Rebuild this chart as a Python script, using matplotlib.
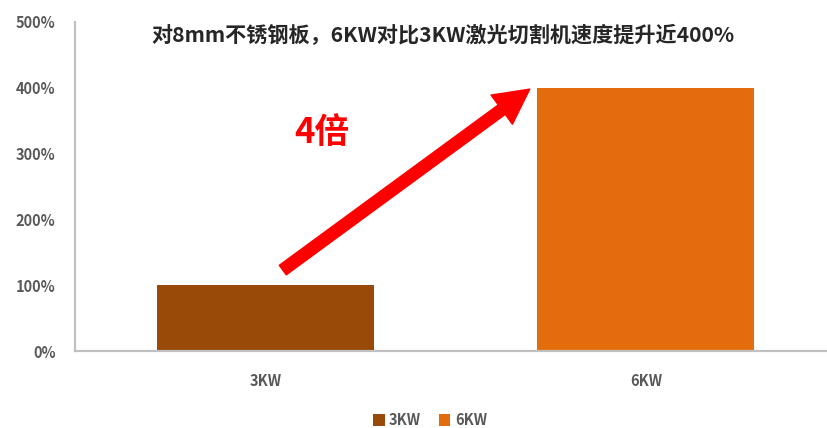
import matplotlib

matplotlib.use("Agg")

import matplotlib.pyplot as plt
from matplotlib.patches import FancyArrowPatch
from matplotlib.ticker import FuncFormatter

plt.rcParams["font.family"] = ["Noto Sans CJK SC", "DejaVu Sans"]

# Cutting speed relative to the 3KW machine (percent / 100).
CATEGORIES = ["3KW", "6KW"]
SPEED_RATIO = [1.0, 4.0]
BAR_COLORS = ["#994a08", "#e36c0c"]
Y_TICKS = [0, 1, 2, 3, 4, 5]

TITLE = "对8mm不锈钢板，6KW对比3KW激光切割机速度提升近400%"
ARROW_LABEL = "4倍"

AXIS_GRAY = "#c0c0c0"
TEXT_GRAY = "#595959"

fig = plt.figure(figsize=(8.27, 4.28), dpi=100)
# the plot area runs slightly past the right edge of the canvas
ax = fig.add_axes([75 / 827, 77 / 428, 752 / 827, 329 / 428])

x = range(len(CATEGORIES))
bars = ax.bar(x, SPEED_RATIO, width=0.57, color=BAR_COLORS, label=CATEGORIES,
              zorder=2)

ax.set_xlim(-0.5, 1.476)
ax.set_ylim(0, 5)
ax.set_yticks(Y_TICKS)
ax.yaxis.set_major_formatter(FuncFormatter(lambda v, _: f"{v * 100:.0f}%"))
ax.set_xticks(list(x))
ax.set_xticklabels(CATEGORIES)

for side in ("top", "right"):
    ax.spines[side].set_visible(False)
for side in ("left", "bottom"):
    ax.spines[side].set_color(AXIS_GRAY)
    ax.spines[side].set_linewidth(1.6)

ax.tick_params(axis="both", length=0, labelsize=10.5, labelcolor=TEXT_GRAY)
ax.tick_params(axis="y", pad=14)
ax.tick_params(axis="x", pad=16)
for lbl in ax.get_xticklabels() + ax.get_yticklabels():
    lbl.set_fontweight("bold")

fig.text(443 / 827, 1 - 35 / 428, TITLE, ha="center", va="center",
         fontsize=15.2, fontweight="bold", color="#262626")

# growth arrow from the 3KW bar up to the 6KW bar
arrow = FancyArrowPatch(
    (0.046, 1.23), (0.695, 3.98),
    arrowstyle="simple,head_length=25,head_width=26,tail_width=8.5",
    mutation_scale=1, shrinkA=0, shrinkB=0,
    color="#ff0000", zorder=3,
)
ax.add_patch(arrow)
ax.text(0.148, 3.32, ARROW_LABEL, ha="center", va="center",
        fontsize=25, fontweight="bold", color="#ff0000")

leg = fig.legend(
    handles=list(bars), labels=CATEGORIES, loc="center",
    bbox_to_anchor=(430 / 827, 1 - 420 / 428), ncol=2, frameon=False,
    handlelength=0.8, handleheight=0.8, handletextpad=0.3, columnspacing=1.2,
    prop={"size": 10.5, "weight": "bold"},
)
for t in leg.get_texts():
    t.set_color(TEXT_GRAY)

fig.savefig("out.png", dpi=100)
